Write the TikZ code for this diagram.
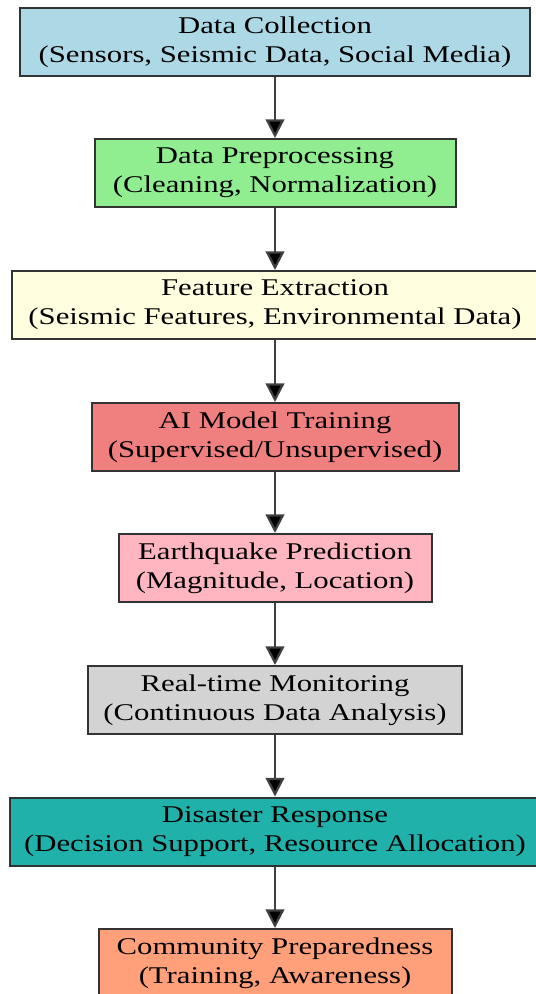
\documentclass[tikz,border=0pt]{standalone}
\usepackage{fontspec}
\setmainfont{Liberation Serif}[FakeStretch=1.28]
\usetikzlibrary{arrows.meta}
\definecolor{cblue}{HTML}{ADD8E6}
\definecolor{cgreen}{HTML}{90EE90}
\definecolor{cyellow}{HTML}{FFFFE0}
\definecolor{ccoral}{HTML}{F08080}
\definecolor{cpink}{HTML}{FFB6C1}
\definecolor{cgrey}{HTML}{D3D3D3}
\definecolor{cseagreen}{HTML}{20B2AA}
\definecolor{csalmon}{HTML}{FFA07A}
\definecolor{cborder}{HTML}{333333}
\definecolor{cedge}{HTML}{404040}
\begin{document}
\begin{tikzpicture}[x=0.75pt,y=-0.75pt,
  box/.style={draw=cborder, line width=1.5pt, rectangle, align=center,
    inner sep=0pt, minimum height=51pt, minimum width=#1*0.75pt,
    font=\fontsize{18}{21.75}\selectfont, text=black},
  flow/.style={draw=cedge, line width=1.7pt,
    -{Triangle[length=14pt,width=14pt,fill=black]}}]
\useasboundingbox (0,0) rectangle (535,994);
\node[box=510, fill=cblue]     (n1) at (275,42)  {Data Collection\\(Sensors, Seismic Data, Social Media)};
\node[box=361, fill=cgreen]    (n2) at (275,173) {Data Preprocessing\\(Cleaning, Normalization)};
\node[box=527, fill=cyellow]   (n3) at (275,305) {Feature Extraction\\(Seismic Features, Environmental Data)};
\node[box=367, fill=ccoral]    (n4) at (275,437) {AI Model Training\\(Supervised/Unsupervised)};
\node[box=313, fill=cpink]     (n5) at (275,568) {Earthquake Prediction\\(Magnitude, Location)};
\node[box=374, fill=cgrey]     (n6) at (275,700) {Real-time Monitoring\\(Continuous Data Analysis)};
\node[box=531, fill=cseagreen] (n7) at (275,831.5) {Disaster Response\\(Decision Support, Resource Allocation)};
\node[box=353, fill=csalmon]   (n8) at (275,963) {Community Preparedness\\(Training, Awareness)};
\foreach \a/\b in {n1/n2,n2/n3,n3/n4,n4/n5,n5/n6,n6/n7,n7/n8}
  \draw[flow] (\a.south) -- (\b.north);
\end{tikzpicture}
\end{document}
